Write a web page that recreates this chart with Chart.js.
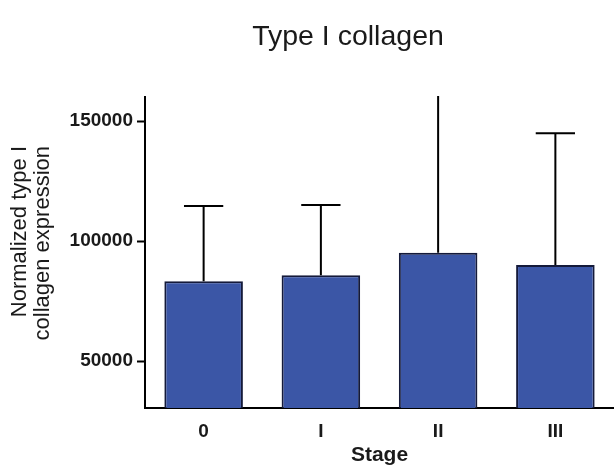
<!DOCTYPE html>
<html>
<head>
<meta charset="utf-8">
<script src="https://cdn.jsdelivr.net/npm/chart.js@4.4.0/dist/chart.umd.min.js"></script>
<style>
  html, body { margin: 0; padding: 0; background: #fff; }
  #wrap { width: 614px; height: 468px; }
</style>
</head>
<body>
<div id="wrap"><canvas id="collagenChart" width="614" height="468"></canvas></div>
<script>
// Valores
const stages = ['0', 'I', 'II', 'III'];
const meanExpression = [83300, 85800, 95100, 90000];
const upperError = [114600, 115000, 168000, 144900]; // II se sale del eje (estimado)
const yTicks = [50000, 100000, 150000];
const yMin = 30500;
const yMax = 160000;

const chartTitle = 'Type I collagen';
const yTitleLines = ['Normalized type I', 'collagen expression'];
const xTitle = 'Stage';

const FONT = '"Liberation Sans", Arial, Helvetica, sans-serif';
const TEXT_COLOR = '#1a1a1a';

// Barras de error (solo hacia arriba), recortadas al área del gráfico
const errorBarsPlugin = {
    id: 'errorBars',
    afterDatasetsDraw(chart) {
        const ctx = chart.ctx;
        const area = chart.chartArea;
        const yScale = chart.scales.y;
        const meta = chart.getDatasetMeta(0);
        ctx.save();
        ctx.beginPath();
        ctx.rect(area.left, area.top - 1, area.right - area.left, area.bottom - area.top + 1);
        ctx.clip();
        ctx.strokeStyle = '#000';
        ctx.lineWidth = 2;
        meta.data.forEach((bar, i) => {
            const top = yScale.getPixelForValue(upperError[i]);
            const half = bar.width / 4;
            ctx.beginPath();
            ctx.moveTo(bar.x, bar.y);
            ctx.lineTo(bar.x, top);
            ctx.moveTo(bar.x - half, top);
            ctx.lineTo(bar.x + half, top);
            ctx.stroke();
        });
        ctx.restore();
    }
};

// Título y título del eje Y (dos líneas, alineadas arriba)
const textPlugin = {
    id: 'extraText',
    afterDraw(chart) {
        const ctx = chart.ctx;
        ctx.save();
        ctx.fillStyle = TEXT_COLOR;
        ctx.textBaseline = 'middle';
        ctx.textAlign = 'center';
        ctx.font = '28.5px ' + FONT;
        ctx.fillText(chartTitle, 348, 37);

        ctx.font = '22px ' + FONT;
        ctx.textAlign = 'right';
        const lineX = [19.5, 42.5];
        yTitleLines.forEach((line, i) => {
            ctx.save();
            ctx.translate(lineX[i], 146);
            ctx.rotate(-Math.PI / 2);
            ctx.fillText(line, 0, 0);
            ctx.restore();
        });
        ctx.restore();
    }
};

const ctx = document.getElementById('collagenChart');

new Chart(ctx, {
    type: 'bar',
    data: {
        labels: stages,
        datasets: [{
            label: 'Type I collagen',
            data: meanExpression,
            backgroundColor: '#3B56A6',
            borderColor: '#141a3a',
            borderWidth: 2,
            borderSkipped: 'start',
            barPercentage: 0.67,
            categoryPercentage: 1
        }]
    },
    options: {
        responsive: false,
        animation: false,
        layout: { padding: { top: 97, right: 0, bottom: 0, left: 0 } },
        plugins: {
            legend: { display: false },
            tooltip: { enabled: false },
            title: { display: false }
        },
        scales: {
            x: {
                z: 1,
                offset: true,
                grid: { display: false },
                border: { display: true, color: '#000', width: 2 },
                ticks: {
                    color: TEXT_COLOR,
                    padding: 4,
                    font: { family: FONT, size: 19, weight: 'bold' }
                },
                title: {
                    display: true,
                    text: xTitle,
                    color: TEXT_COLOR,
                    padding: 0,
                    font: { family: FONT, size: 21, weight: 'bold' }
                },
                afterFit(scale) { scale.height = 60; }
            },
            y: {
                z: 1,
                min: yMin,
                max: yMax,
                afterBuildTicks(scale) {
                    scale.ticks = yTicks.map(v => ({ value: v }));
                },
                grid: {
                    drawOnChartArea: false,
                    drawTicks: true,
                    tickLength: 8,
                    tickColor: '#000',
                    tickWidth: 2
                },
                border: { display: true, color: '#000', width: 2 },
                ticks: {
                    color: TEXT_COLOR,
                    padding: 4,
                    font: { family: FONT, size: 19, weight: 'bold' },
                    callback: (value) => String(value)
                },
                afterFit(scale) { scale.width = 145; }
            }
        }
    },
    plugins: [errorBarsPlugin, textPlugin]
});
</script>
</body>
</html>
